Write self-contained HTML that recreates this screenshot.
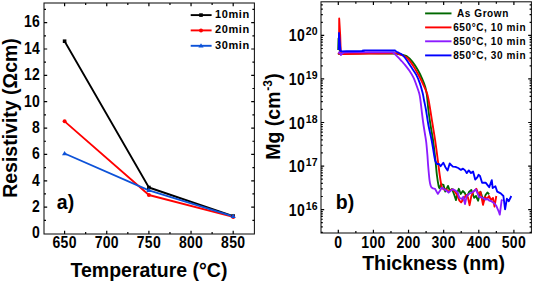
<!DOCTYPE html>
<html><head><meta charset="utf-8"><style>
html,body{margin:0;padding:0;background:#fff;width:533px;height:282px;overflow:hidden}
svg{display:block}
text{font-family:"Liberation Sans", sans-serif;font-weight:bold;fill:#000}
.t14{font-size:14px;letter-spacing:0.3px}
.t105{font-size:10.5px;letter-spacing:0.3px}
.t11{font-size:11px;letter-spacing:0.6px}
.t10l{font-size:10px;letter-spacing:0.6px}
.t19{font-size:19.5px}
.t20{font-size:20px}
</style></head><body>
<svg width="533" height="282" viewBox="0 0 533 282">
<rect x="44.0" y="3.0" width="210.4" height="231.0" fill="none" stroke="#111" stroke-width="1.05"/>
<path d="M64.60 234.0v-3.2M64.60 3.0v3.2M85.67 234.0v-2.0M85.67 3.0v2.0M106.75 234.0v-3.2M106.75 3.0v3.2M127.82 234.0v-2.0M127.82 3.0v2.0M148.90 234.0v-3.2M148.90 3.0v3.2M169.97 234.0v-2.0M169.97 3.0v2.0M191.05 234.0v-3.2M191.05 3.0v3.2M212.12 234.0v-2.0M212.12 3.0v2.0M233.20 234.0v-3.2M233.20 3.0v3.2M44.0 220.32h2.0M254.4 220.32h-2.0M44.0 207.14h3.2M254.4 207.14h-3.2M44.0 193.96h2.0M254.4 193.96h-2.0M44.0 180.78h3.2M254.4 180.78h-3.2M44.0 167.60h2.0M254.4 167.60h-2.0M44.0 154.42h3.2M254.4 154.42h-3.2M44.0 141.24h2.0M254.4 141.24h-2.0M44.0 128.06h3.2M254.4 128.06h-3.2M44.0 114.88h2.0M254.4 114.88h-2.0M44.0 101.70h3.2M254.4 101.70h-3.2M44.0 88.52h2.0M254.4 88.52h-2.0M44.0 75.34h3.2M254.4 75.34h-3.2M44.0 62.16h2.0M254.4 62.16h-2.0M44.0 48.98h3.2M254.4 48.98h-3.2M44.0 35.80h2.0M254.4 35.80h-2.0M44.0 22.62h3.2M254.4 22.62h-3.2M44.0 9.44h2.0M254.4 9.44h-2.0" fill="none" stroke="#000" stroke-width="1.2"/>
<text transform="translate(40.20 238.30) scale(1 1.16)" text-anchor="end" class="t14">0</text>
<text transform="translate(40.20 211.94) scale(1 1.16)" text-anchor="end" class="t14">2</text>
<text transform="translate(40.20 185.58) scale(1 1.16)" text-anchor="end" class="t14">4</text>
<text transform="translate(40.20 159.22) scale(1 1.16)" text-anchor="end" class="t14">6</text>
<text transform="translate(40.20 132.86) scale(1 1.16)" text-anchor="end" class="t14">8</text>
<text transform="translate(40.20 106.50) scale(1 1.16)" text-anchor="end" class="t14">10</text>
<text transform="translate(40.20 80.14) scale(1 1.16)" text-anchor="end" class="t14">12</text>
<text transform="translate(40.20 53.78) scale(1 1.16)" text-anchor="end" class="t14">14</text>
<text transform="translate(40.20 27.42) scale(1 1.16)" text-anchor="end" class="t14">16</text>
<text transform="translate(64.60 248.30) scale(1 1.16)" text-anchor="middle" class="t14">650</text>
<text transform="translate(106.75 248.30) scale(1 1.16)" text-anchor="middle" class="t14">700</text>
<text transform="translate(148.90 248.30) scale(1 1.16)" text-anchor="middle" class="t14">750</text>
<text transform="translate(191.05 248.30) scale(1 1.16)" text-anchor="middle" class="t14">800</text>
<text transform="translate(233.20 248.30) scale(1 1.16)" text-anchor="middle" class="t14">850</text>
<text transform="translate(149.00 276.60) scale(1 1.06)" text-anchor="middle" class="t19">Temperature (°C)</text>
<text transform="translate(16.80 118.00) rotate(-90) scale(1 1.06)" text-anchor="middle" class="t19">Resistivity (Ωcm)</text>
<text transform="translate(56.80 208.60) scale(1 1.07)" class="t19">a)</text>
<polyline points="64.60,41.20 148.90,187.50 233.20,216.10" fill="none" stroke="#000000" stroke-width="1.85" stroke-linejoin="round"/>
<polyline points="64.60,121.34 148.90,195.01 233.20,216.89" fill="none" stroke="#ff0000" stroke-width="1.85" stroke-linejoin="round"/>
<polyline points="64.60,153.50 148.90,190.40 233.20,216.37" fill="none" stroke="#0d52d8" stroke-width="1.85" stroke-linejoin="round"/>
<rect x="62.80" y="39.40" width="3.6" height="3.6" fill="#000000"/>
<rect x="147.10" y="185.70" width="3.6" height="3.6" fill="#000000"/>
<rect x="231.40" y="214.30" width="3.6" height="3.6" fill="#000000"/>
<circle cx="64.60" cy="121.34" r="2" fill="#ff0000"/>
<circle cx="148.90" cy="195.01" r="2" fill="#ff0000"/>
<circle cx="233.20" cy="216.89" r="2" fill="#ff0000"/>
<path d="M64.60 150.90L67.20 155.20L62.00 155.20Z" fill="#0d52d8"/>
<path d="M148.90 187.80L151.50 192.10L146.30 192.10Z" fill="#0d52d8"/>
<path d="M233.20 213.77L235.80 218.07L230.60 218.07Z" fill="#0d52d8"/>
<line x1="190.7" y1="15.1" x2="211.6" y2="15.1" stroke="#000000" stroke-width="1.9"/>
<rect x="199.20" y="13.30" width="3.6" height="3.6" fill="#000000"/>
<text x="215.00" y="18.00" class="t11">10min</text>
<line x1="190.7" y1="30.4" x2="211.6" y2="30.4" stroke="#ff0000" stroke-width="1.9"/>
<circle cx="201.00" cy="30.40" r="2" fill="#ff0000"/>
<text x="215.00" y="33.30" class="t11">20min</text>
<line x1="190.7" y1="45.8" x2="211.6" y2="45.8" stroke="#0d52d8" stroke-width="1.9"/>
<path d="M201.00 43.20L203.60 47.50L198.40 47.50Z" fill="#0d52d8"/>
<text x="215.00" y="48.70" class="t11">30min</text>
<rect x="321.0" y="1.8" width="210.39999999999998" height="231.2" fill="none" stroke="#111" stroke-width="1.05"/>
<path d="M338.30 233.0v-3.2M338.30 1.8v3.2M355.86 233.0v-2.0M355.86 1.8v2.0M373.42 233.0v-3.2M373.42 1.8v3.2M390.98 233.0v-2.0M390.98 1.8v2.0M408.54 233.0v-3.2M408.54 1.8v3.2M426.10 233.0v-2.0M426.10 1.8v2.0M443.66 233.0v-3.2M443.66 1.8v3.2M461.22 233.0v-2.0M461.22 1.8v2.0M478.78 233.0v-3.2M478.78 1.8v3.2M496.34 233.0v-2.0M496.34 1.8v2.0M513.90 233.0v-3.2M513.90 1.8v3.2M321.0 232.37h1.8M531.4 232.37h-1.8M321.0 226.93h1.8M531.4 226.93h-1.8M321.0 222.71h1.8M531.4 222.71h-1.8M321.0 219.26h1.8M531.4 219.26h-1.8M321.0 216.35h1.8M531.4 216.35h-1.8M321.0 213.82h1.8M531.4 213.82h-1.8M321.0 211.59h1.8M531.4 211.59h-1.8M321.0 209.60h3.2M531.4 209.60h-3.2M321.0 196.49h1.8M531.4 196.49h-1.8M321.0 188.82h1.8M531.4 188.82h-1.8M321.0 183.38h1.8M531.4 183.38h-1.8M321.0 179.16h1.8M531.4 179.16h-1.8M321.0 175.71h1.8M531.4 175.71h-1.8M321.0 172.80h1.8M531.4 172.80h-1.8M321.0 170.27h1.8M531.4 170.27h-1.8M321.0 168.04h1.8M531.4 168.04h-1.8M321.0 166.05h3.2M531.4 166.05h-3.2M321.0 152.94h1.8M531.4 152.94h-1.8M321.0 145.27h1.8M531.4 145.27h-1.8M321.0 139.83h1.8M531.4 139.83h-1.8M321.0 135.61h1.8M531.4 135.61h-1.8M321.0 132.16h1.8M531.4 132.16h-1.8M321.0 129.25h1.8M531.4 129.25h-1.8M321.0 126.72h1.8M531.4 126.72h-1.8M321.0 124.49h1.8M531.4 124.49h-1.8M321.0 122.50h3.2M531.4 122.50h-3.2M321.0 109.39h1.8M531.4 109.39h-1.8M321.0 101.72h1.8M531.4 101.72h-1.8M321.0 96.28h1.8M531.4 96.28h-1.8M321.0 92.06h1.8M531.4 92.06h-1.8M321.0 88.61h1.8M531.4 88.61h-1.8M321.0 85.70h1.8M531.4 85.70h-1.8M321.0 83.17h1.8M531.4 83.17h-1.8M321.0 80.94h1.8M531.4 80.94h-1.8M321.0 78.95h3.2M531.4 78.95h-3.2M321.0 65.84h1.8M531.4 65.84h-1.8M321.0 58.17h1.8M531.4 58.17h-1.8M321.0 52.73h1.8M531.4 52.73h-1.8M321.0 48.51h1.8M531.4 48.51h-1.8M321.0 45.06h1.8M531.4 45.06h-1.8M321.0 42.15h1.8M531.4 42.15h-1.8M321.0 39.62h1.8M531.4 39.62h-1.8M321.0 37.39h1.8M531.4 37.39h-1.8M321.0 35.40h3.2M531.4 35.40h-3.2M321.0 22.29h1.8M531.4 22.29h-1.8M321.0 14.62h1.8M531.4 14.62h-1.8M321.0 9.18h1.8M531.4 9.18h-1.8M321.0 4.96h1.8M531.4 4.96h-1.8" fill="none" stroke="#000" stroke-width="1.2"/>
<text transform="translate(305.00 215.60) scale(1 1.16)" text-anchor="end" class="t14">10</text>
<text transform="translate(305.70 209.60) scale(1 1.1)" class="t105">16</text>
<text transform="translate(305.00 172.05) scale(1 1.16)" text-anchor="end" class="t14">10</text>
<text transform="translate(305.70 166.05) scale(1 1.1)" class="t105">17</text>
<text transform="translate(305.00 128.50) scale(1 1.16)" text-anchor="end" class="t14">10</text>
<text transform="translate(305.70 122.50) scale(1 1.1)" class="t105">18</text>
<text transform="translate(305.00 84.95) scale(1 1.16)" text-anchor="end" class="t14">10</text>
<text transform="translate(305.70 78.95) scale(1 1.1)" class="t105">19</text>
<text transform="translate(305.00 41.40) scale(1 1.16)" text-anchor="end" class="t14">10</text>
<text transform="translate(305.70 35.40) scale(1 1.1)" class="t105">20</text>
<text transform="translate(338.30 247.80) scale(1 1.16)" text-anchor="middle" class="t14">0</text>
<text transform="translate(373.42 247.80) scale(1 1.16)" text-anchor="middle" class="t14">100</text>
<text transform="translate(408.54 247.80) scale(1 1.16)" text-anchor="middle" class="t14">200</text>
<text transform="translate(443.66 247.80) scale(1 1.16)" text-anchor="middle" class="t14">300</text>
<text transform="translate(478.78 247.80) scale(1 1.16)" text-anchor="middle" class="t14">400</text>
<text transform="translate(513.90 247.80) scale(1 1.16)" text-anchor="middle" class="t14">500</text>
<text transform="translate(433.60 269.60) scale(1 1.06)" text-anchor="middle" class="t19">Thickness (nm)</text>
<text transform="translate(280.20 116.50) rotate(-90) scale(1 1.04)" text-anchor="middle" class="t19">Mg (cm<tspan font-size="12" dy="-7.6" dx="0.8">-3</tspan><tspan dy="7.6" dx="0.3">)</tspan></text>
<text transform="translate(335.80 208.80) scale(1 1.07)" class="t19">b)</text>
<path d="M338.20 50.00L338.50 38.50L339.50 48.00L339.90 52.00L339.90 52.00C340.08 52.33 340.48 53.75 341.00 54.00C341.52 54.25 334.33 53.58 343.00 53.50C351.67 53.42 383.83 53.42 393.00 53.50C402.17 53.58 396.42 53.77 398.00 54.00C399.58 54.23 401.08 54.55 402.50 54.90C403.92 55.25 404.87 54.97 406.50 56.10C408.13 57.23 410.38 59.33 412.30 61.70C414.22 64.07 416.35 67.43 418.00 70.30C419.65 73.17 421.00 76.15 422.20 78.90C423.40 81.65 424.42 84.12 425.20 86.80C425.98 89.48 426.37 91.13 426.90 95.00C427.43 98.87 427.80 105.00 428.40 110.00C429.00 115.00 429.73 120.00 430.50 125.00C431.27 130.00 432.18 134.17 433.00 140.00C433.82 145.83 434.75 154.17 435.40 160.00C436.05 165.83 436.37 170.67 436.90 175.00C437.43 179.33 438.17 183.80 438.60 186.00C439.03 188.20 439.35 187.83 439.50 188.20L441.2 184.2L443.5 184.8L445.2 191.6L448.0 185.9L449.7 190.5L452.0 189.0L454.3 195.0L456.0 200.1L457.7 191.6L458.8 188.8L460.7 194.0L462.8 191.0L464.8 193.0L466.7 197.3L469.0 192.0L471.3 189.9L474.1 197.8L476.0 196.0L478.1 200.7L480.3 191.6L482.0 196.0L483.9 200.5L485.5 195.0L487.4 192.5L489.2 194.3" fill="none" stroke="#006800" stroke-width="1.85" stroke-linejoin="round"/>
<path d="M339.00 50.00L339.20 18.50L340.20 35.00L340.80 53.00L340.80 53.00C341.17 53.17 334.30 53.95 343.00 54.00C351.70 54.05 383.67 53.30 393.00 53.30C402.33 53.30 397.25 53.58 399.00 54.00C400.75 54.42 402.03 55.05 403.50 55.80C404.97 56.55 406.13 56.75 407.80 58.50C409.47 60.25 411.60 63.33 413.50 66.30C415.40 69.27 417.55 73.22 419.20 76.30C420.85 79.38 422.10 81.97 423.40 84.80C424.70 87.63 426.13 90.77 427.00 93.30C427.87 95.83 428.05 97.22 428.60 100.00C429.15 102.78 429.62 105.83 430.30 110.00C430.98 114.17 431.90 120.00 432.70 125.00C433.50 130.00 434.25 134.17 435.10 140.00C435.95 145.83 437.03 154.17 437.80 160.00C438.57 165.83 439.12 170.83 439.70 175.00C440.28 179.17 440.92 182.92 441.30 185.00C441.68 187.08 441.88 187.08 442.00 187.50L443.5 189.3L446.3 189.5L448.6 191.6L451.0 190.0L453.1 189.5L454.8 191.6L457.1 195.0L459.4 200.7L461.1 202.4L463.9 198.4L466.2 195.0L467.9 197.3L469.6 205.2L471.3 196.1L473.5 191.6L476.4 188.8L478.6 194.3L480.5 192.0L483.0 204.9L485.0 197.0L487.0 199.0L489.0 196.0L491.0 200.0L493.0 198.0L494.5 206.7L496.3 196.0" fill="none" stroke="#ff0000" stroke-width="1.85" stroke-linejoin="round"/>
<path d="M338.50 53.50L339.50 52.00L341.00 55.00L341.00 55.00C341.33 54.67 341.50 53.45 343.00 53.00C344.50 52.55 342.17 52.42 350.00 52.30C357.83 52.18 382.83 52.25 390.00 52.30C397.17 52.35 392.10 52.22 393.00 52.60C393.90 52.98 394.37 53.63 395.40 54.60C396.43 55.57 398.10 57.25 399.20 58.40C400.30 59.55 401.03 60.42 402.00 61.50C402.97 62.58 403.78 63.38 405.00 64.90C406.22 66.42 407.88 68.47 409.30 70.60C410.72 72.73 412.33 75.33 413.50 77.70C414.67 80.07 415.35 82.20 416.30 84.80C417.25 87.40 418.52 90.77 419.20 93.30C419.88 95.83 420.00 97.22 420.40 100.00C420.80 102.78 421.15 106.33 421.60 110.00C422.05 113.67 422.57 118.17 423.10 122.00C423.63 125.83 424.28 129.67 424.80 133.00C425.32 136.33 425.77 138.33 426.20 142.00C426.63 145.67 427.08 151.17 427.40 155.00C427.72 158.83 427.75 160.83 428.10 165.00C428.45 169.17 429.08 176.58 429.50 180.00C429.92 183.42 430.25 184.25 430.60 185.50C430.95 186.75 431.43 187.17 431.60 187.50L433.0 188.4L435.0 188.8L437.8 193.9L440.1 190.5L441.8 187.6L444.1 189.3L446.3 190.5L448.6 192.7L450.9 190.5L453.1 189.3L455.4 190.5L457.7 192.7L459.4 197.8L461.6 199.0L463.3 196.7L465.0 204.1L466.7 196.1L469.0 193.9L471.3 192.7L473.5 191.6L475.8 189.3L477.5 193.3L479.2 197.3L480.3 196.9L483.0 198.0L485.6 199.6L487.5 199.0L489.2 200.5L491.0 201.0L492.7 202.2L494.5 203.5L496.3 205.8L498.9 212.0L499.8 214.6L501.6 200.5L502.5 199.6" fill="none" stroke="#8c1cff" stroke-width="1.85" stroke-linejoin="round"/>
<path d="M338.80 50.00L339.00 33.00L340.00 45.00L340.60 51.00L342.00 51.30L342.00 51.30C345.50 51.25 359.33 51.15 363.00 51.00C366.67 50.85 359.17 50.48 364.00 50.40C368.83 50.32 386.87 50.45 392.00 50.50C397.13 50.55 393.82 50.38 394.80 50.70C395.78 51.02 396.77 51.80 397.90 52.40C399.03 53.00 400.42 53.40 401.60 54.30C402.78 55.20 403.48 55.80 405.00 57.80C406.52 59.80 408.82 63.45 410.70 66.30C412.58 69.15 414.77 72.05 416.30 74.90C417.83 77.75 418.83 80.33 419.90 83.40C420.97 86.47 422.02 90.53 422.70 93.30C423.38 96.07 423.45 97.22 424.00 100.00C424.55 102.78 425.27 105.83 426.00 110.00C426.73 114.17 427.47 120.00 428.40 125.00C429.33 130.00 430.65 135.00 431.60 140.00C432.55 145.00 433.48 151.52 434.10 155.00C434.72 158.48 434.83 159.40 435.30 160.90C435.77 162.40 436.63 163.48 436.90 164.00L439.0 164.0L440.6 166.2L443.3 162.7L445.4 167.2L447.6 170.4L449.7 163.5L451.3 165.1L452.9 166.7L455.5 166.9L458.2 168.0L460.9 169.9L463.0 168.6L465.1 170.4L466.7 173.1L468.8 170.4L471.0 173.1L473.1 171.5L475.2 179.5L477.3 177.3L478.5 174.8L480.0 176.0L482.1 182.7L485.6 182.7L489.2 187.2L491.8 180.1L492.7 188.1L495.4 186.3L497.2 191.6L500.7 193.4L503.4 196.0L505.1 209.3L506.9 198.7L508.7 201.3L511.3 196.0" fill="none" stroke="#0000ff" stroke-width="1.85" stroke-linejoin="round"/>
<line x1="425.1" y1="13.4" x2="451.5" y2="13.4" stroke="#006800" stroke-width="1.9"/>
<text x="456.90" y="16.90" class="t10l">As Grown</text>
<line x1="425.1" y1="27.4" x2="451.5" y2="27.4" stroke="#ff0000" stroke-width="1.9"/>
<text x="453.20" y="30.90" class="t10l">650°C, 10 min</text>
<line x1="425.1" y1="41.3" x2="451.5" y2="41.3" stroke="#8c1cff" stroke-width="1.9"/>
<text x="453.20" y="44.80" class="t10l">850°C, 10 min</text>
<line x1="425.1" y1="55.4" x2="451.5" y2="55.4" stroke="#0000ff" stroke-width="1.9"/>
<text x="453.20" y="58.90" class="t10l">850°C, 30 min</text>
</svg>
</body></html>
